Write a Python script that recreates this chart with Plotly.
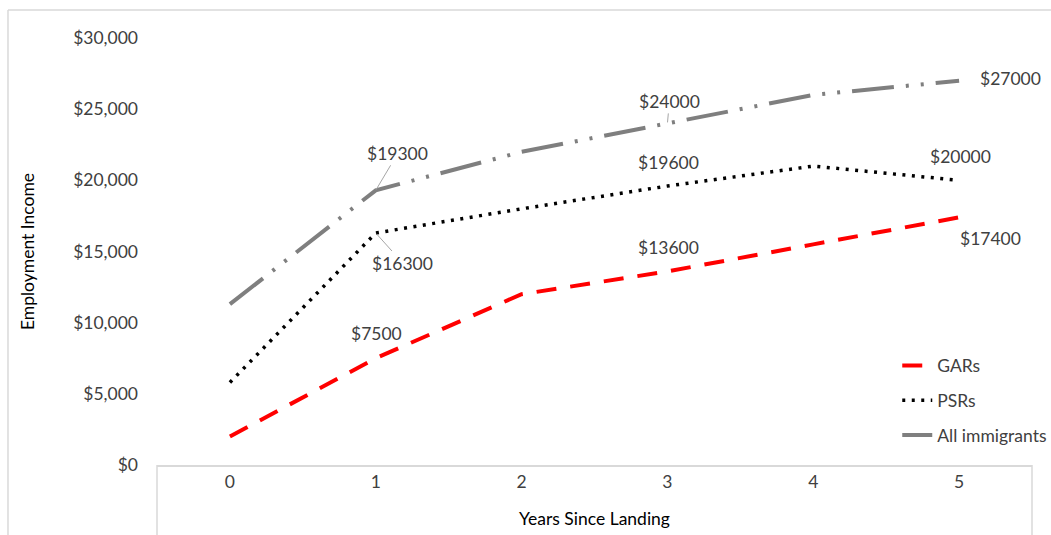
import plotly.graph_objects as go

# Average employment income by years since landing
years = [0, 1, 2, 3, 4, 5]
year_labels = ["0", "1", "2", "3", "4", "5"]
gars = [2000, 7500, 12000, 13600, 15500, 17400]
psrs = [5800, 16300, 18000, 19600, 21000, 20000]
all_immigrants = [11300, 19300, 22000, 24000, 26000, 27000]
y_ticks = [0, 5000, 10000, 15000, 20000, 25000, 30000]
y_tick_labels = ["$0", "$5,000", "$10,000", "$15,000", "$20,000", "$25,000", "$30,000"]

FONT = "Lato, 'Open Sans', sans-serif"
TXT = "#404040"
FS = 17.5

fig = go.Figure()
fig.add_trace(go.Scatter(
    x=years, y=gars, mode="lines", name="GARs", legendgroup="a",
    line=dict(color="#ff0000", width=4, dash="20px,14px")))
fig.add_trace(go.Scatter(
    x=years, y=psrs, mode="lines", name="PSRs", legendgroup="b",
    line=dict(color="#000000", width=3.5, dash="3px,6.5px")))
fig.add_trace(go.Scatter(
    x=years, y=all_immigrants, mode="lines", name="All immigrants", legendgroup="c",
    line=dict(color="#7f7f7f", width=4, dash="42px,12px,3px,12px,3px,12px")))

def label(x, y, xs=0, ys=0):
    fig.add_annotation(x=x, y=y, text=f"${y}", showarrow=False, xshift=xs, yshift=ys,
                       font=dict(size=FS, color=TXT, family=FONT))

def leader(x, y, ax, ay):
    fig.add_annotation(x=x, y=y, text=f"${y}", showarrow=True, ax=ax, ay=ay,
                       arrowhead=0, arrowwidth=1, arrowcolor="#a6a6a6", standoff=1,
                       font=dict(size=FS, color=TXT, family=FONT))

label(years[1], gars[1], 1, 25)
label(years[3], gars[3], 1, 24)
label(years[5], gars[5], 31, -21)
label(years[3], psrs[3], 1, 24)
label(years[5], psrs[5], 1, 24)
label(years[5], all_immigrants[5], 51, 2)
leader(years[1], all_immigrants[1], 22, -37)
leader(years[1], psrs[1], 27, 30)
leader(years[3], all_immigrants[3], 2, -22)

# Outer chart border and the boxed category-axis area
fig.add_shape(type="line", xref="paper", yref="paper", x0=-0.1703, x1=1.1, y0=1.0656, y1=1.0656,
              line=dict(color="#d9d9d9", width=1.5))
fig.add_shape(type="line", xref="paper", yref="paper", x0=-0.1703, x1=-0.1703, y0=1.0656, y1=-0.2,
              line=dict(color="#d9d9d9", width=1.5))
for xp in (0, 1.0):
    fig.add_shape(type="line", xref="paper", yref="paper", x0=xp, x1=xp, y0=0, y1=-0.2,
                  line=dict(color="#d9d9d9", width=1.5))

fig.update_layout(
    width=1051, height=535,
    margin=dict(l=157, r=19, t=38, b=70, autoexpand=False),
    paper_bgcolor="white", plot_bgcolor="white",
    font=dict(family=FONT, color=TXT, size=FS),
    showlegend=True,
    legend=dict(x=0.846, y=0.275, xanchor="left", yanchor="top",
                bgcolor="rgba(0,0,0,0)", tracegroupgap=9,
                font=dict(size=FS, color=TXT, family=FONT)),
    xaxis=dict(range=[-0.5, 5.5], tickmode="array", tickvals=years, ticktext=year_labels,
               showgrid=False, zeroline=False, showline=True, linecolor="#d9d9d9", linewidth=1.5,
               ticks="", tickfont=dict(size=FS, color=TXT),
               title=dict(text="Years Since Landing", font=dict(size=FS, color="#000000"), standoff=22)),
    yaxis=dict(range=[0, 30000], tickmode="array", tickvals=y_ticks, ticktext=y_tick_labels,
               showgrid=False, zeroline=False, showline=False, ticks="",
               ticklabelstandoff=18, tickfont=dict(size=FS, color=TXT),
               title=dict(text="Employment Income", font=dict(size=FS, color="#000000"), standoff=34)),
)

fig.write_html("out.html")
